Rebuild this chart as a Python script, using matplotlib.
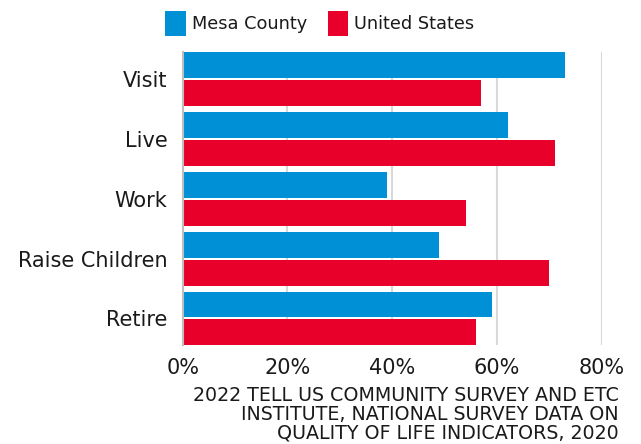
import matplotlib.pyplot as plt
import numpy as np

categories = ["Visit", "Live", "Work", "Raise Children", "Retire"]
mesa_county = [73, 62, 39, 49, 59]
united_states = [57, 71, 54, 70, 56]
x_ticks = [0, 20, 40, 60, 80]
x_tick_labels = ["0%", "20%", "40%", "60%", "80%"]
source_note = ("2022 TELL US COMMUNITY SURVEY AND ETC\n"
               "INSTITUTE, NATIONAL SURVEY DATA ON\n"
               "QUALITY OF LIFE INDICATORS, 2020")

blue = "#0090D6"
red = "#E8002B"
text_color = "#1a1a1a"

plt.rcParams['font.family'] = ['DejaVu Sans']

fig = plt.figure(figsize=(6.41, 4.44), dpi=100)
ax = fig.add_axes([0.285, 0.222, 0.654, 0.661])

y = np.arange(len(categories))
h = 0.433
ax.barh(y - 0.233, mesa_county, height=h, color=blue, label="Mesa County", zorder=3)
ax.barh(y + 0.233, united_states, height=h, color=red, label="United States", zorder=3)

ax.set_xlim(0, 80)
ax.set_ylim(4.45, -0.45)
ax.set_yticks(y)
ax.set_yticklabels(categories, fontsize=15, color=text_color)
ax.set_xticks(x_ticks)
ax.set_xticklabels(x_tick_labels, fontsize=15, color=text_color)
ax.tick_params(axis='both', length=0)
ax.tick_params(axis='y', pad=11)
ax.tick_params(axis='x', pad=9)

ax.grid(axis='x', color="#d9d9d9", linewidth=1.5, zorder=0)
for s in ['top', 'right', 'bottom']:
    ax.spines[s].set_visible(False)
ax.spines['left'].set_color("#bfbfbf")
ax.spines['left'].set_linewidth(1.5)
ax.spines['left'].set_zorder(4)

ax.legend(loc='upper center', bbox_to_anchor=(0.327, 1.195), ncol=2, frameon=False,
          fontsize=12.8, handlelength=1.15, handleheight=1.8, handletextpad=0.35,
          columnspacing=1.15, labelcolor=text_color)

fig.text(619 / 641, 1 - 386 / 444, source_note, ha='right', va='top', fontsize=13.7,
         color=text_color, linespacing=0.98)

plt.savefig('out.png', dpi=100)
